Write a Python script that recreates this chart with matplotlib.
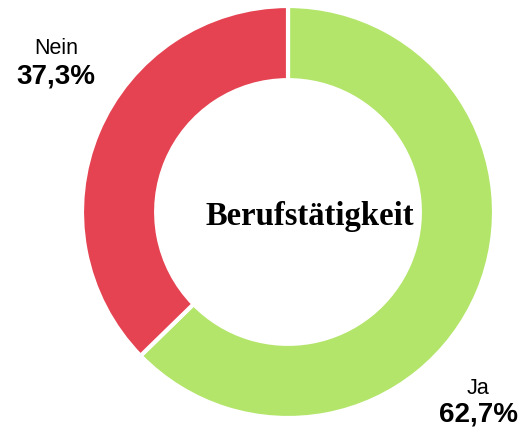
import matplotlib.pyplot as plt

labels = ['Ja', 'Nein']
values = [62.7, 37.3]
colors = ['#b3e56a', '#e54352']
pct_text = ['62,7%', '37,3%']

W, H = 529, 430
fig = plt.figure(figsize=(W / 100, H / 100), dpi=100)
ax = fig.add_axes([0, 0, 1, 1])

ax.pie(values, colors=colors, startangle=90, counterclock=False,
       center=(288, H - 212), radius=206,
       wedgeprops=dict(width=206 * 0.36, edgecolor='white', linewidth=3))

# pie() resets the limits, so set pixel coords afterwards
ax.set_xlim(0, W)
ax.set_ylim(0, H)
ax.set_aspect('equal')
ax.axis('off')

# labels outside the ring
pos = {'Ja': (478, 388), 'Nein': (56, 49)}
for lab, pct in zip(labels, pct_text):
    x, y = pos[lab]
    ax.text(x, H - y, lab, ha='center', va='center', fontsize=15.5,
            family='Liberation Sans')
    ax.text(x, H - y - 27, pct, ha='center', va='center', fontsize=20,
            fontweight='bold', family='Liberation Sans')

ax.text(310, H - 217, 'Berufstätigkeit', ha='center', va='center',
        fontsize=23.5, fontweight='bold', family='Liberation Serif')

fig.savefig('out.png', dpi=100)
